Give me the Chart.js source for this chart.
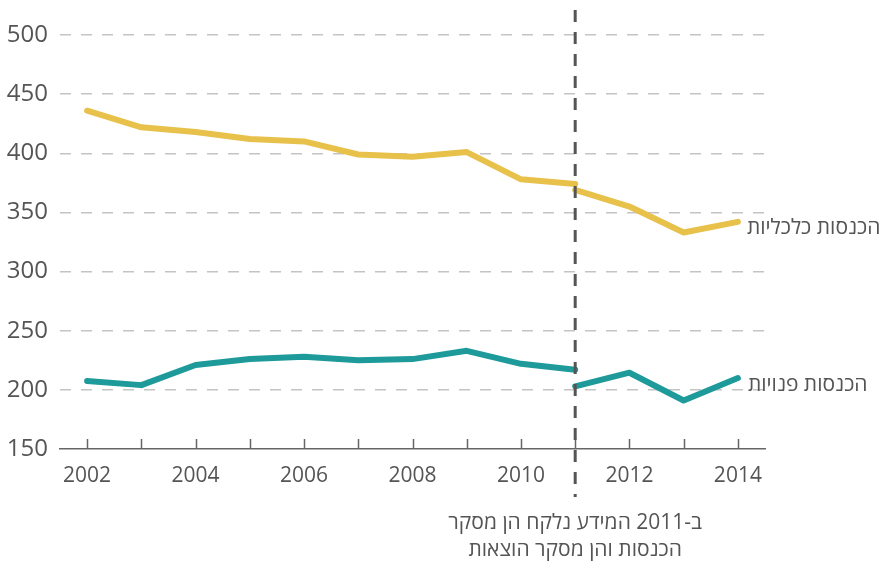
<!DOCTYPE html>
<html lang="he">
<head>
<meta charset="utf-8">
<script src="https://cdn.jsdelivr.net/npm/chart.js@4"></script>
<style>
    html, body { margin: 0; padding: 0; background: #ffffff; }
    #wrap { width: 880px; height: 563px; }
</style>
</head>
<body>
<div id="wrap"><canvas id="incomeChart" width="880" height="563"></canvas></div>
<script>
// years before and after the 2011 survey change
const yearsBefore = [2002, 2003, 2004, 2005, 2006, 2007, 2008, 2009, 2010, 2011];
const yearsAfter = [2011, 2012, 2013, 2014];
const xTickYears = [2002, 2003, 2004, 2005, 2006, 2007, 2008, 2009, 2010, 2011, 2012, 2013, 2014];

// economic income
const economicBefore = [436, 422, 418, 412, 410, 399, 397, 401, 378, 374];
const economicAfter = [369, 355, 333, 342];
// disposable income
const disposableBefore = [207.5, 204, 221, 226, 228, 225, 226, 233, 222, 217];
const disposableAfter = [203, 214.5, 191, 210];

const economicLabel = "הכנסות כלכליות";
const disposableLabel = "הכנסות פנויות";
const breakYear = 2011;
const breakNote = ["ב-2011 המידע נלקח הן מסקר", "הכנסות והן מסקר הוצאות"];

const yellow = "#e8c14b";
const teal = "#1e9a9b";
const textColor = "#555555";
const fontFamily = "'Open Sans', 'Noto Sans', 'DejaVu Sans', sans-serif";

function toPoints(xs, ys) {
    return xs.map((x, i) => ({ x: x, y: ys[i] }));
}

function lineSet(label, xs, ys, color) {
    return {
        label: label,
        data: toPoints(xs, ys),
        borderColor: color,
        backgroundColor: color,
        borderWidth: 6,
        borderCapStyle: "round",
        borderJoinStyle: "round",
        pointRadius: 0,
        tension: 0,
        fill: false,
    };
}

const decorPlugin = {
    id: "decor",
    afterDraw(chart) {
        const ctx = chart.ctx;
        const x = chart.scales.x;
        const y = chart.scales.y;
        const area = chart.chartArea;
        ctx.save();

        // small tick marks on top of the x axis
        ctx.strokeStyle = "#666666";
        ctx.lineWidth = 1.5;
        xTickYears.forEach(yr => {
            const px = Math.round(x.getPixelForValue(yr)) + 0.5;
            ctx.beginPath();
            ctx.moveTo(px, area.bottom);
            ctx.lineTo(px, area.bottom - 10);
            ctx.stroke();
        });

        // vertical dashed line at the break year
        const bx = x.getPixelForValue(breakYear);
        ctx.strokeStyle = "#555555";
        ctx.lineWidth = 3;
        ctx.setLineDash([12, 10]);
        ctx.beginPath();
        ctx.moveTo(bx, 10);
        ctx.lineTo(bx, 497);
        ctx.stroke();
        ctx.setLineDash([]);

        // series labels at the line ends
        ctx.fillStyle = textColor;
        ctx.font = "21px " + fontFamily;
        ctx.textBaseline = "middle";
        ctx.textAlign = "left";
        const lastYear = yearsAfter[yearsAfter.length - 1];
        const ex = x.getPixelForValue(lastYear) + 9;
        ctx.fillText(economicLabel, ex, y.getPixelForValue(economicAfter[economicAfter.length - 1]) + 6);
        ctx.fillText(disposableLabel, ex + 1, y.getPixelForValue(disposableAfter[disposableAfter.length - 1]) + 7);

        // note under the axis
        ctx.direction = "rtl";
        ctx.textAlign = "center";
        ctx.fillText(breakNote[0], bx, 523);
        ctx.fillText(breakNote[1], bx, 550);
        ctx.restore();
    },
};

new Chart(document.getElementById("incomeChart"), {
    type: "line",
    data: {
        datasets: [
            lineSet(economicLabel, yearsBefore, economicBefore, yellow),
            lineSet(economicLabel, yearsAfter, economicAfter, yellow),
            lineSet(disposableLabel, yearsBefore, disposableBefore, teal),
            lineSet(disposableLabel, yearsAfter, disposableAfter, teal),
        ],
    },
    options: {
        responsive: false,
        animation: false,
        layout: { padding: { top: 35, right: 115, left: 0, bottom: 0 } },
        plugins: {
            legend: { display: false },
            tooltip: { enabled: false },
        },
        scales: {
            x: {
                type: "linear",
                min: 2001.5,
                max: 2014.5,
                afterBuildTicks: (scale) => {
                    scale.ticks = xTickYears.map(v => ({ value: v }));
                },
                afterFit: (scale) => { scale.height = 114; },
                grid: { display: false, drawTicks: false },
                border: { display: true, color: "#666666", width: 1.5 },
                ticks: {
                    autoSkip: false,
                    maxRotation: 0,
                    padding: 14,
                    color: textColor,
                    font: { family: fontFamily, size: 21 },
                    callback: (v) => (v % 2 === 0 ? String(v) : ""),
                },
            },
            y: {
                min: 150,
                max: 500,
                afterFit: (scale) => { scale.width = 60; },
                grid: {
                    color: (c) => (c.tick.value === 150 ? "rgba(0,0,0,0)" : "#c4c4c4"),
                    lineWidth: 1.5,
                    drawTicks: false,
                },
                border: { display: false, dash: [11, 10] },
                ticks: {
                    stepSize: 50,
                    padding: 12,
                    color: textColor,
                    font: { family: fontFamily, size: 24 },
                },
            },
        },
    },
    plugins: [decorPlugin],
});
</script>
</body>
</html>
